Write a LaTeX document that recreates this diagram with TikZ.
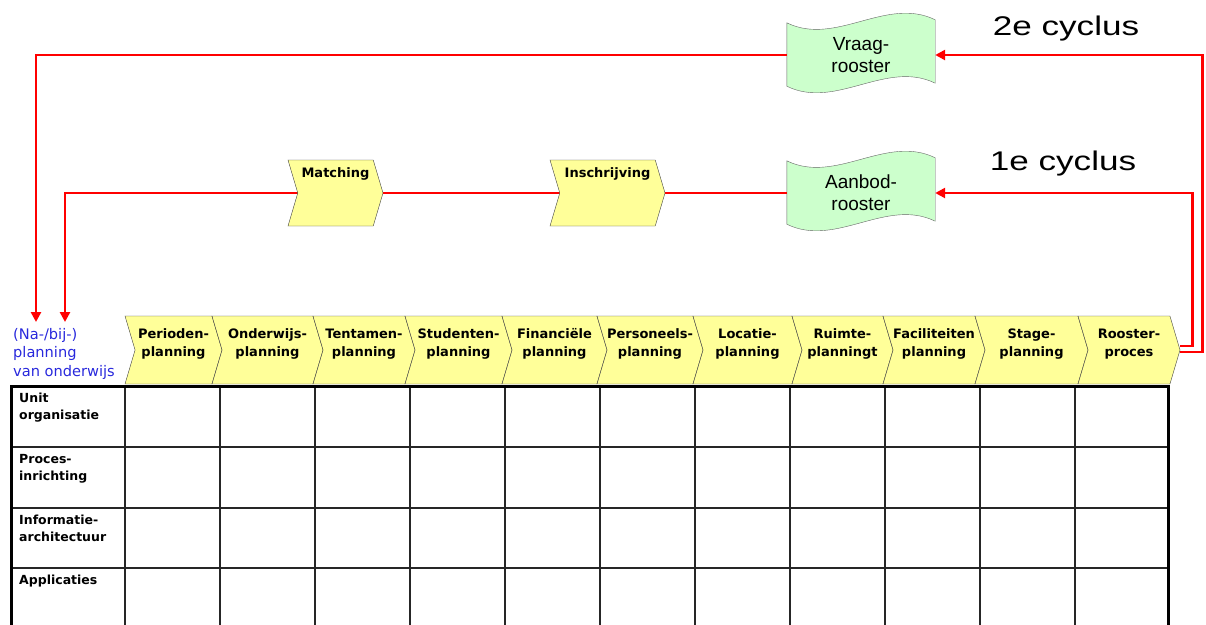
\documentclass[tikz,border=0pt]{standalone}
\usepackage{fontspec}
\setmainfont{DejaVu Sans}
\newfontfamily\arialfont{Liberation Sans}
\usetikzlibrary{calc}
\usetikzlibrary{arrows.meta}
\usetikzlibrary{shapes.symbols}
\usetikzlibrary{backgrounds}
\definecolor{chevyellow}{RGB}{255,255,153}
\definecolor{tapegreen}{RGB}{204,255,204}
\definecolor{planblue}{RGB}{40,40,220}

\tikzset{
  chev/.style={shape=signal, signal to=east, signal from=west, signal pointer angle=147,
    draw=black!75, fill=chevyellow, inner sep=0pt, minimum height=68pt},
  chevtext/.style={font=\bfseries\fontsize{13}{17.5}\selectfont, align=center, inner sep=0pt},
  tapebox/.style={minimum width=148pt, minimum height=66pt, align=center, inner sep=0pt,
    font=\arialfont\fontsize{19}{22}\selectfont},
  tapeline/.style={draw=black!60, fill=tapegreen},
  rowtext/.style={font=\bfseries\fontsize{12.5}{17}\selectfont, align=left, anchor=north west, inner sep=0pt},
  cyc/.style={draw=red, line width=2.8pt},
  cycarrow/.style={cyc, -{Triangle[length=10pt,width=10pt]}},
}

\begin{document}
\begin{tikzpicture}[x=1pt,y=-1pt]
\useasboundingbox (0,0) rectangle (1206,624);

\foreach \y in {447,508,568}
  \draw[black!85,line width=1.4pt] (11,\y)--(1168,\y);
\foreach \x in {125,220,...,1075}
  \draw[black!85,line width=1.4pt] (\x,386)--(\x,630);
\draw[black,line width=3pt] (11,630)--(11,386)--(1168,386)--(1168,630);

\foreach \n/\a/\b/\txt in {perioden/125/212/Perioden-\\planning,
    onderwijs/212/313/Onderwijs-\\planning, tentamen/313/405/Tentamen-\\planning,
    studenten/405/502/Studenten-\\planning, financieel/502/597/Financiële\\planning,
    personeel/597/693/Personeels-\\planning, locatie/693/792/Locatie-\\planning,
    ruimte/792/883/Ruimte-\\planningt, faciliteit/883/975/Faciliteiten\\planning,
    stage/975/1078/Stage-\\planning, roosterproc/1078/1170/Rooster-\\proces} {
  \node[chev, minimum width=\b-\a+10] (\n) at ({(\a+\b+10)/2},350) {};
  \node[chevtext] (\n-t) at ([yshift=6pt]\n.center) {\txt};
}

\node[chev, minimum height=66pt, minimum width=95pt] (match) at (335.5,193) {};
\node[chevtext, anchor=north] (match-t) at ([yshift=-8pt]match.north) {Matching};
\node[chev, minimum height=66pt, minimum width=115pt] (insch) at (607.5,193) {};
\node[chevtext, anchor=north] (insch-t) at ([yshift=-8pt]insch.north) {Inschrijving};

\node[tapebox] (vraag) at (861,55) {Vraag-\\rooster};
\node[tapebox] (aanbod) at (861,193) {Aanbod-\\rooster};

\node[anchor=base, font=\arialfont\fontsize{27}{27}\selectfont] (cyc2) at (1066,35) {\scalebox{1.3}[1]{2e cyclus}};
\node[anchor=base, font=\arialfont\fontsize{27}{27}\selectfont] (cyc1) at (1063,170) {\scalebox{1.3}[1]{1e cyclus}};

\node[anchor=north west, align=left, inner sep=0pt, text=planblue,
  font=\fontsize{14.6}{18.5}\selectfont] (napl) at (13,328) {(Na-/bij-)\\planning\\van onderwijs};

\foreach \n/\y/\txt in {unit/393/Unit\\organisatie, proces/454/Proces-\\inrichting,
    info/515/Informatie-\\architectuur, appl/575/Applicaties}
  \node[rowtext] (\n) at (19,\y) {\txt};

\coordinate (in2) at (36,322);
\coordinate (in1) at (65,322);
\begin{scope}[on background layer]
\foreach \t in {vraag,aanbod}
  \draw[tapeline] ([yshift=-1pt]\t.north west) .. controls +(49,24) and +(-49,-24) .. ([yshift=2pt]\t.north east)
    -- ([yshift=5pt]\t.south east) .. controls +(-49,-24) and +(49,24) .. ([yshift=2pt]\t.south west) -- cycle;
\draw[cycarrow] ([yshift=4pt]roosterproc.east) -- ++(12,0) |- (aanbod.east);
\draw[cycarrow] ([yshift=-2pt]roosterproc.east) -- ++(22,0) |- (vraag.east);
\draw[cycarrow] (vraag.west) -| (in2);
\draw[cyc] (aanbod.west) -- (insch.east);
\draw[cyc] (insch.west) -- (match.east);
\draw[cycarrow] (match.west) -| (in1);
\end{scope}
\end{tikzpicture}
\end{document}
